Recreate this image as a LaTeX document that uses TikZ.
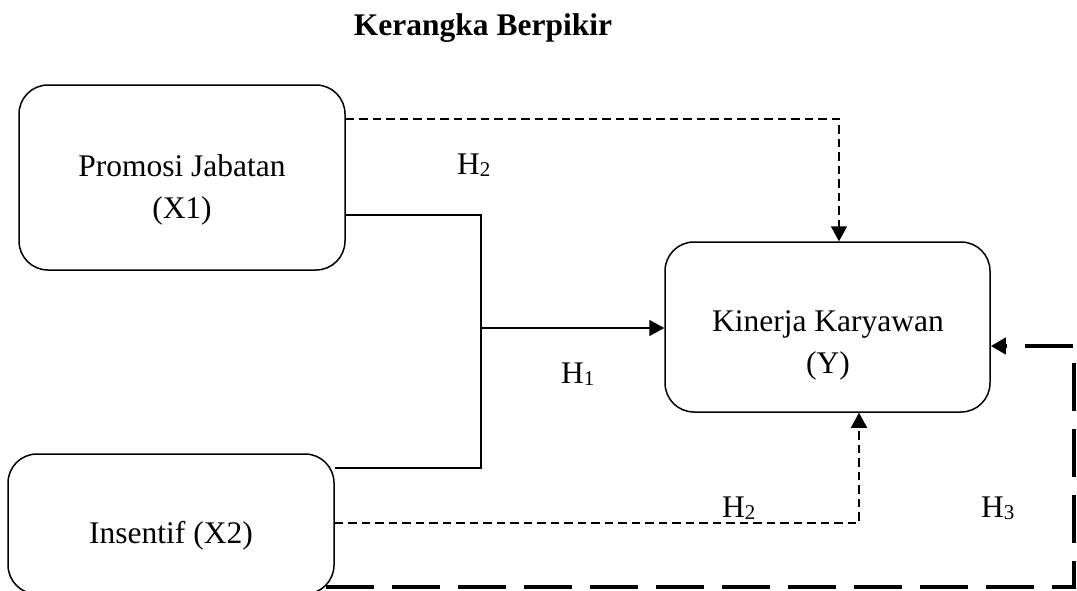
\documentclass[tikz,border=0pt]{standalone}
\usepackage{fontspec}
\setmainfont{Liberation Serif}
\usetikzlibrary{arrows.meta}

% hypothesis index, set small and only slightly lowered
\newcommand{\hyidx}[1]{\raisebox{-2.5pt}{\fontsize{21}{21}\selectfont #1}}

\tikzset{
  varbox/.style={draw, line width=1.5pt, rounded corners=29pt, inner sep=0pt},
  boxtext/.style={inner sep=0pt, align=center, font=\fontsize{31.5}{42.5}\selectfont},
  hlabel/.style={inner sep=0pt, anchor=base west, font=\fontsize{31.5}{38}\selectfont},
  tip/.style={-{Triangle[length=15pt,width=16pt]}},
  solidlink/.style={line width=1.5pt},
  thinlink/.style={line width=1.6pt, dash pattern=on 8.5pt off 5pt},
  heavylink/.style={line width=4.8pt, dash pattern=on 48pt off 18pt}
}

\begin{document}
\begin{tikzpicture}[x=1pt, y=-1pt]
  \useasboundingbox (0,0) rectangle (1077,590);
  \clip (0,0) rectangle (1077,590);

  % title
  \node[inner sep=0pt, anchor=base, font=\fontsize{31.5}{38}\selectfont\bfseries]
    (title) at (483,35) {Kerangka Berpikir};

  % variable boxes
  \node[varbox, minimum width=326pt, minimum height=185pt] (X1) at (182,177.5) {};
  \node[varbox, minimum width=326pt, minimum height=140pt] (X2) at (171,524) {};
  \node[varbox, minimum width=325pt, minimum height=170pt] (Y)  at (827.5,327) {};

  \node[boxtext] (X1txt) at (182,190) {Promosi Jabatan\\(X1)};
  \node[boxtext, anchor=base] (X2txt) at (171,543) {Insentif (X2)};
  \node[boxtext] (Ytxt) at (828,345.5) {Kinerja Karyawan\\(Y)};

  % junction points of the connectors
  \coordinate (j1) at (481,215);
  \coordinate (j2) at (481,468);
  \coordinate (jm) at (481,328);
  \coordinate (d1) at (839,119);
  \coordinate (d2) at (859,523);
  \coordinate (h0) at (326,587);
  \coordinate (h1) at (1074,587);
  \coordinate (h2) at (1074,346);

  % H1: joint effect
  \draw[solidlink] (X1.east |- j1) -- (j1) -- (j2) -- (X2.east |- j2);
  \draw[solidlink, tip] (jm) -- (Y.west |- jm);

  % H2: partial effects
  \draw[thinlink, tip] (X1.east |- d1) -- (d1) -- (d1 |- Y.north);
  \draw[thinlink, tip] (X2.east |- d2) -- (d2) -- (d2 |- Y.south);

  % H3
  \draw[heavylink, tip] (h0) -- (h1) -- (h2) -- (Y.east |- h2);

  % hypothesis labels
  \node[hlabel] (lh2a) at (457,174) {H\hyidx{2}};
  \node[hlabel] (lh1)  at (561,383) {H\hyidx{1}};
  \node[hlabel] (lh2b) at (722,517) {H\hyidx{2}};
  \node[hlabel] (lh3)  at (981,517) {H\hyidx{3}};
\end{tikzpicture}
\end{document}
